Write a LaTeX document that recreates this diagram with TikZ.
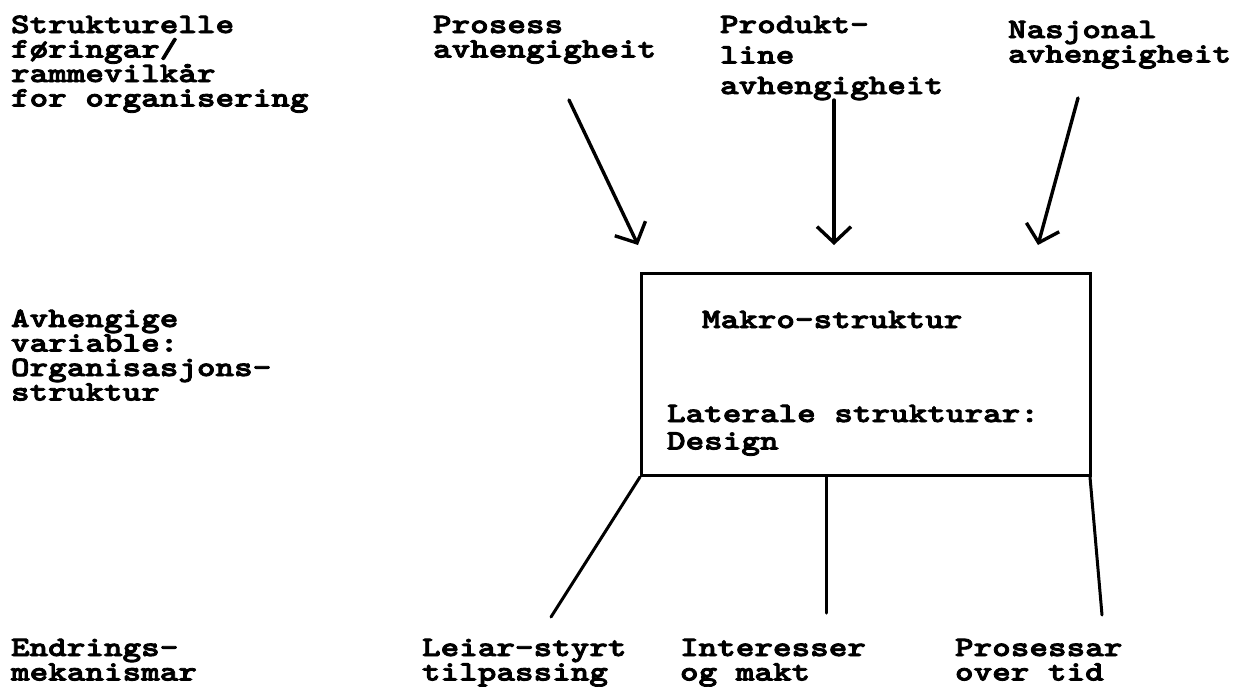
\documentclass[tikz,border=0pt]{standalone}
\usepackage{fontspec}
\usetikzlibrary{arrows.meta}
% bold typewriter face, widened to the pitch of the typed labels
\newfontfamily\tw{lmmonolt10-bold.otf}[FakeStretch=1.265,FakeBold=3]
\newcommand\typed{\tw\fontsize{28pt}{24.5pt}\selectfont\lineskiplimit=-100pt\relax}
\newcommand\st{\rule{0pt}{22pt}}
\tikzset{
  lbl/.style={anchor=north west, inner sep=0pt, outer sep=0pt, align=left, font=\typed},
  arr/.style={line width=3.4pt, line cap=round, line join=round,
              -{Straight Barb[length=16pt,width=34pt,line width=3.4pt]}},
  link/.style={line width=3pt, line cap=round},
  frame/.style={draw, line width=3pt, anchor=north west, inner sep=0pt,
                minimum width=449pt, minimum height=202pt}
}
\begin{document}
\begin{tikzpicture}[x=1pt,y=-1pt]
\useasboundingbox (0,0) rectangle (1251,686);

% row labels
\node[lbl] (rowA) at (11,11)  {\st Strukturelle\\føringar/\\rammevilkår\\for organisering};
\node[lbl] (rowB) at (11,305) {\st Avhengige\\variable:\\Organisasjons-\\struktur};
\node[lbl] (rowC) at (11,634) {\st Endrings-\\mekanismar};

% constraints
\node[lbl] (prosess)  at (433,11)  {\st Prosess\\avhengigheit};
\node[lbl] (produkt)  at (720,11)  {\st Produkt-\\[6pt]line\\[6pt]avhengigheit};
\node[lbl] (nasjonal) at (1008,16) {\st Nasjonal\\avhengigheit};

% structure box
\node[frame] (box) at (640,272) {};
\node[lbl] (makro) at (702,306) {\st Makro-struktur};
\node[lbl] (lat)   at (667,400) {\st Laterale strukturar:\\[3pt]Design};

% mechanisms
\node[lbl] (leiar) at (422,634) {\st Leiar-styrt\\tilpassing};
\node[lbl] (inter) at (680,634) {\st Interesser\\og makt};
\node[lbl] (proc)  at (955,634) {\st Prosessar\\over tid};

% arrows into the box
\coordinate (a1) at (569,100);  \coordinate (t1) at (638,245);
\coordinate (a2) at (834,100);  \coordinate (t2) at (834,245);
\coordinate (a3) at (1078,98);  \coordinate (t3) at (1038,245);
\draw[arr] (a1) -- (t1);
\draw[arr] (a2) -- (t2);
\draw[arr] (a3) -- (t3);

% lines down to the mechanisms
\coordinate (b1) at (551,617);
\coordinate (b2) at (826,613);
\coordinate (b3) at (1102,615);
\draw[link] (box.south west) -- (b1);
\draw[link] (b2 |- box.south) -- (b2);
\draw[link] ([xshift=-2pt]box.south east) -- (b3);
\end{tikzpicture}
\end{document}
